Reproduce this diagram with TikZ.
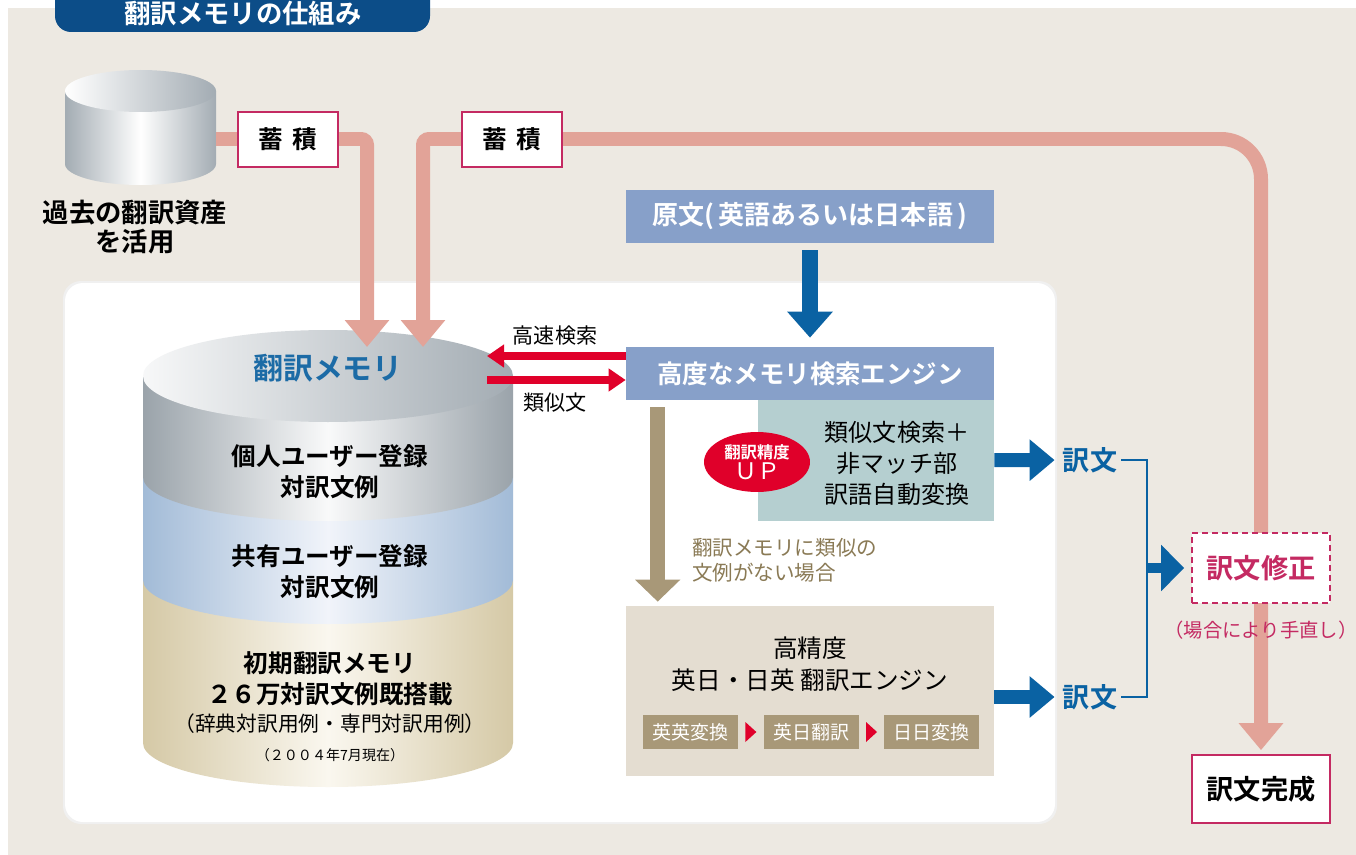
\documentclass[tikz,border=0pt]{standalone}
\usepackage{fontspec}
\setmainfont{Noto Sans CJK JP}[BoldFont={Noto Sans CJK JP Bold}]
\usetikzlibrary{shapes.geometric,arrows.meta,positioning,calc}
\usepackage{xcolor}
\definecolor{paper}{HTML}{EDE9E2}
\definecolor{navy}{HTML}{0C4D88}
\definecolor{pipecol}{HTML}{E2A398}
\definecolor{crimson}{HTML}{C42A62}
\definecolor{periwinkle}{HTML}{87A0C9}
\definecolor{flowblue}{HTML}{0A62A3}
\definecolor{alertred}{HTML}{E0002A}
\definecolor{mist}{HTML}{B5CFD0}
\definecolor{khaki}{HTML}{A89878}
\definecolor{khakitext}{HTML}{8A7A55}
\definecolor{sand}{HTML}{E4DDD1}
\definecolor{memblue}{HTML}{1C6BA6}
\definecolor{steelA}{HTML}{9AA3AA}
\definecolor{steelB}{HTML}{A3ACB3}
\definecolor{skyA}{HTML}{A2BBD7}
\definecolor{skyB}{HTML}{F1F4FA}
\definecolor{wheatA}{HTML}{D5C9A6}
\definecolor{wheatB}{HTML}{FAF7EF}

\begin{document}
\begin{tikzpicture}[
  x=0.02cm, y=0.02cm,
  pipe/.style={draw=pipecol, line width=2.8mm, -{Triangle[width=8.6mm,length=5.4mm]}},
  keepbox/.style={draw=crimson, line width=0.35mm, fill=white,
    minimum width=20mm, minimum height=11mm, inner sep=0pt,
    font=\fontsize{14}{16}\selectfont\bfseries},
  bluebox/.style={fill=periwinkle, text=white, minimum width=73.6mm,
    minimum height=10.6mm, inner sep=0pt, font=\fontsize{14.5}{16}\selectfont\bfseries},
  layer/.style={align=center, font=\fontsize{14}{17.6}\selectfont\bfseries},
  hit/.style={draw=alertred, line width=1.5mm, -{Triangle[width=4.4mm,length=3.4mm]}},
  flow/.style={draw=flowblue, line width=3.2mm, -{Triangle[width=8.8mm,length=5.2mm]}},
  yield/.style={draw=flowblue, line width=2.8mm, -{Triangle[width=8mm,length=5mm]}, shorten >=1.6mm},
  miss/.style={draw=khaki, line width=3mm, -{Triangle[width=8.8mm,length=4.4mm]}},
  stagebox/.style={fill=khaki, text=white, minimum width=19mm, minimum height=6.8mm,
    inner sep=0pt, font=\fontsize{10.8}{12}\selectfont},
  result/.style={text=flowblue, inner sep=0pt, font=\fontsize{15.4}{17}\selectfont\bfseries},
  endbox/.style={draw=crimson, line width=0.35mm, fill=white, minimum width=27.6mm,
    inner sep=0pt, font=\fontsize{15.5}{17}\selectfont\bfseries}
]
\clip (0,0) rectangle (1356,-855);
\fill[white] (0,0) rectangle (1356,-855);
\fill[paper] (8,-8) rectangle (1356,-855);

% title tab
\fill[navy, rounded corners=3.2mm] (55,20) rectangle (430,-32);
\node[text=white, font=\fontsize{15}{17}\selectfont\bfseries] (title) at (243,-14) {翻訳メモリの仕組み};

% past assets
\shade[left color=steelB, right color=steelB, middle color=white]
  (65,-91) -- (65,-164) arc[start angle=180, end angle=360, x radius=75.5, y radius=21] -- (216,-91) -- cycle;
\shade[left color=white, right color=steelB] (140.5,-91) ellipse [x radius=75.5, y radius=21];
\coordinate (storeout) at (216,-139);
\node[align=center, font=\fontsize{15}{16}\selectfont\bfseries] (storelabel) at (135,-227) {過去の翻訳資産\\を活用};

% panel
\fill[black!6, rounded corners=3.6mm] (63,-281) rectangle (1057,-824);
\fill[white, rounded corners=3.6mm] (65,-283) rectangle (1055,-822);

% translation memory
\shade[left color=wheatA, right color=wheatA, middle color=wheatB]
  (143,-580) -- (143,-743) arc[start angle=180, end angle=360, x radius=185, y radius=44] -- (513,-580) -- cycle;
\shade[left color=skyA, right color=skyA, middle color=skyB]
  (143,-477) -- (143,-580) arc[start angle=180, end angle=360, x radius=185, y radius=44] -- (513,-477) -- cycle;
\shade[left color=steelA, right color=steelA, middle color=white!94!steelA]
  (143,-376) -- (143,-477) arc[start angle=180, end angle=360, x radius=185, y radius=44] -- (513,-376) -- cycle;
\shade[left color=white!92!steelA, right color=steelB] (328,-376) ellipse [x radius=185, y radius=46];
\coordinate (in1) at (367,-347);
\coordinate (in2) at (423,-347);

\node[text=memblue, font=\fontsize{17}{19}\selectfont\bfseries] (memtitle) at (328,-368) {翻訳メモリ};
\node[layer] (personal) at (330,-471.5) {個人ユーザー登録\\対訳文例};
\node[layer] (shared) at (330,-572) {共有ユーザー登録\\対訳文例};
\node[layer] (initial) at (330,-678.5) {初期翻訳メモリ\\２６万対訳文例既搭載};
\node[font=\fontsize{11.8}{13}\selectfont] (dictnote) at (330,-724) {（辞典対訳用例・専門対訳用例）};
\node[font=\fontsize{8}{10}\selectfont] (datenote) at (330,-755) {（２００４年7月現在）};

\node[endbox, minimum height=13.6mm] (done) at (1261,-789) {訳文完成};

% accumulation pipes
\coordinate (bend) at (700,-139);
\draw[pipe, rounded corners=1.2mm] (storeout) -| (in1);
\draw[pipe, rounded corners=1.2mm] (bend) -| (in2);
\draw[pipe, rounded corners=8mm, shorten >=0.8mm] (bend) -| (done.north);
\node[keepbox] (keep1) at (288,-139.5) {蓄\hspace{2mm}積};
\node[keepbox] (keep2) at (512,-139.5) {蓄\hspace{2mm}積};

% search engine
\node[bluebox, font=\fontsize{14.8}{16}\selectfont\bfseries] (source) at (810,-216.5) {原文(\,英語あるいは日本語\,)};
\node[bluebox] (engine) at (810,-373.5) {高度なメモリ検索エンジン};
\draw[flow, shorten <=1.4mm, shorten >=1.8mm] (source) -- (engine);

\coordinate (hitL) at (487,-356);
\coordinate (hitR) at (487,-380);
\draw[hit] (engine.west |- hitL) -- (hitL);
\draw[hit] (hitR) -- (engine.west |- hitR);
\node[font=\fontsize{12}{14}\selectfont] (fast) at (555,-336) {高速検索};
\node[font=\fontsize{12}{14}\selectfont] (similar) at (555,-403) {類似文};

\node[fill=mist, minimum width=47.2mm, minimum height=24.2mm, inner sep=0pt] (match) at (876,-460.5) {};
\node[align=center, font=\fontsize{13.7}{17.6}\selectfont] (matchtext) at (897,-463) {類似文検索＋\\非マッチ部\\訳語自動変換};
\node[ellipse, fill=alertred, text=white, minimum width=21.2mm, minimum height=12mm,
  inner sep=0pt, align=center] (up) at (757,-462)
  {{\fontsize{9.3}{10.5}\selectfont\bfseries 翻訳精度}\\{\fontsize{13}{13}\selectfont ＵＰ}};

% fallback engine
\node[fill=sand, minimum width=73.6mm, minimum height=34mm, inner sep=0pt] (precise) at (810,-691) {};
\node[align=center, font=\fontsize{14}{18.2}\selectfont] (precisetitle) at (810,-664) {高精度\\英日・日英 翻訳エンジン};
\node[stagebox] (stage1) at (690.5,-732) {英英変換};
\node[stagebox, right=5mm of stage1] (stage2) {英日翻訳};
\node[stagebox, right=5mm of stage2] (stage3) {日日変換};
\fill[alertred] ($(stage1.east)!0.5!(stage2.west)+(-5.5,10)$) -- ++(11,-10) -- ++(-11,-10) -- cycle;
\fill[alertred] ($(stage2.east)!0.5!(stage3.west)+(-5.5,10)$) -- ++(11,-10) -- ++(-11,-10) -- cycle;

\path (engine.south west) ++(32,0) coordinate (drop);
\draw[miss, shorten <=1.4mm, shorten >=0.8mm] (drop) -- (drop |- precise.north);
\node[anchor=west, align=left, text=khakitext, font=\fontsize{11.7}{14.2}\selectfont] (misslabel) at (686,-560) {翻訳メモリに類似の\\文例がない場合};

% results
\node[result] (res1) at (1090,-460) {訳文};
\node[result] (res2) at (1090,-697) {訳文};
\draw[yield] (match) -- (res1);
\draw[yield] (precise.east |- res2) -- (res2);
\coordinate (bus) at (1147,-568);
\draw[draw=flowblue, line width=0.5mm] ([xshift=0.8mm]res1.east) -| (bus) |- ([xshift=0.8mm]res2.east);

\node[endbox, draw=crimson, dash pattern=on 1.2mm off 0.8mm, text=crimson, minimum height=14mm] (fix) at (1261,-568) {訳文修正};
\draw[draw=flowblue, line width=2mm, -{Triangle[width=9mm,length=4.6mm]}, shorten >=1.4mm] (bus) -- (fix);
\node[text=crimson, font=\fontsize{11}{12}\selectfont] (fixnote) at (1261,-630) {（場合により手直し）};
\end{tikzpicture}
\end{document}
